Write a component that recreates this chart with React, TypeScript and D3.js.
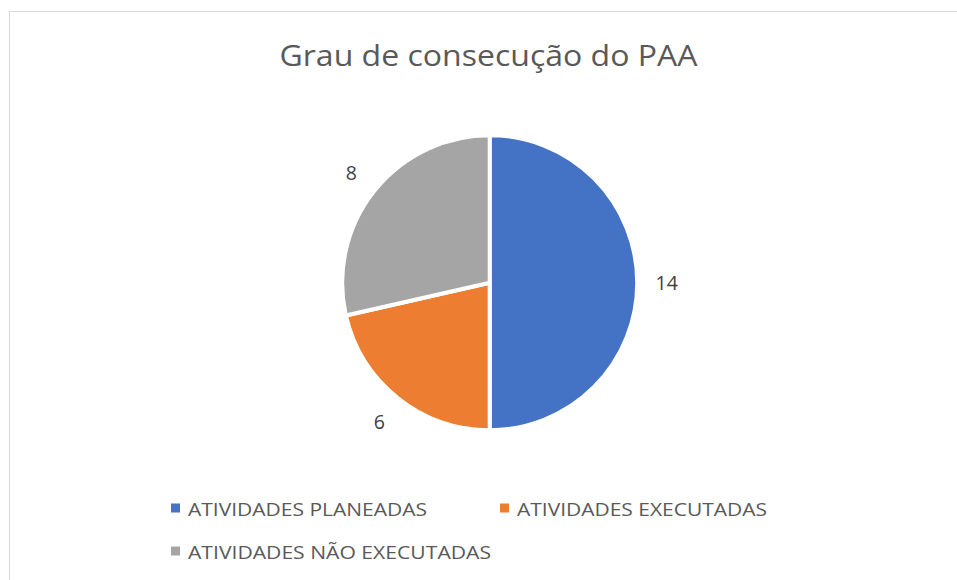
import React, { useEffect, useRef } from "react";
import * as d3 from "d3";

const categories = ["ATIVIDADES PLANEADAS", "ATIVIDADES EXECUTADAS", "ATIVIDADES NÃO EXECUTADAS"];
const values = [14, 6, 8];
const colors = ["#4472C4", "#ED7D31", "#A5A5A5"];
const title = "Grau de consecução do PAA";

const W = 957;
const H = 580;
const FONT = "'Open Sans', 'Liberation Sans', sans-serif";

export default function App() {
  const ref = useRef<SVGSVGElement | null>(null);

  useEffect(() => {
    const svg = d3.select(ref.current);
    svg.selectAll("*").remove();

    svg.append("rect").attr("x", 0).attr("y", 0).attr("width", W).attr("height", H).attr("fill", "#fff");
    svg.append("rect")
      .attr("x", 9.5).attr("y", 11.5).attr("width", W + 20).attr("height", H + 20)
      .attr("fill", "#fff").attr("stroke", "#D9D9D9").attr("stroke-width", 1);

    svg.append("text")
      .attr("x", 488.5).attr("y", 66)
      .attr("text-anchor", "middle")
      .attr("font-family", FONT).attr("font-size", 29.5)
      .attr("fill", "#595959")
      .attr("textLength", 418).attr("lengthAdjust", "spacingAndGlyphs")
      .text(title);

    const cx = 489.7, cy = 282.7, R = 147.5;
    const pie = d3.pie<number>().sort(null).value((d) => d);
    const arcs = pie(values);
    const arc = d3.arc<d3.PieArcDatum<number>>().innerRadius(0).outerRadius(R);
    const labelArc = d3.arc<d3.PieArcDatum<number>>().innerRadius(177).outerRadius(177);

    const g = svg.append("g").attr("transform", `translate(${cx},${cy})`);
    g.selectAll("path").data(arcs).enter().append("path")
      .attr("d", arc as any)
      .attr("fill", (_d, i) => colors[i])
      .attr("stroke", "#fff").attr("stroke-width", 4).attr("stroke-linejoin", "round");

    g.selectAll("text.lbl").data(arcs).enter().append("text")
      .attr("class", "lbl")
      .attr("transform", (d) => `translate(${labelArc.centroid(d)})`)
      .attr("text-anchor", "middle").attr("dominant-baseline", "central")
      .attr("font-family", FONT).attr("font-size", 19.5).attr("fill", "#404040")
      .text((d) => String(d.data));

    const legend = [
      { x: 171, y: 508, w: 239 },
      { x: 500, y: 508, w: 250 },
      { x: 171, y: 551, w: 303 },
    ];
    legend.forEach((p, i) => {
      svg.append("rect").attr("x", p.x).attr("y", p.y - 4.5).attr("width", 9).attr("height", 9).attr("fill", colors[i]);
      svg.append("text")
        .attr("x", p.x + 17).attr("y", p.y).attr("dominant-baseline", "central")
        .attr("font-family", FONT).attr("font-size", 18.5).attr("fill", "#595959")
        .attr("textLength", p.w).attr("lengthAdjust", "spacingAndGlyphs")
        .text(categories[i]);
    });
  }, []);

  return (
    <svg ref={ref} width={W} height={H} style={{ position: "absolute", left: 0, top: 0, display: "block" }} />
  );
}
